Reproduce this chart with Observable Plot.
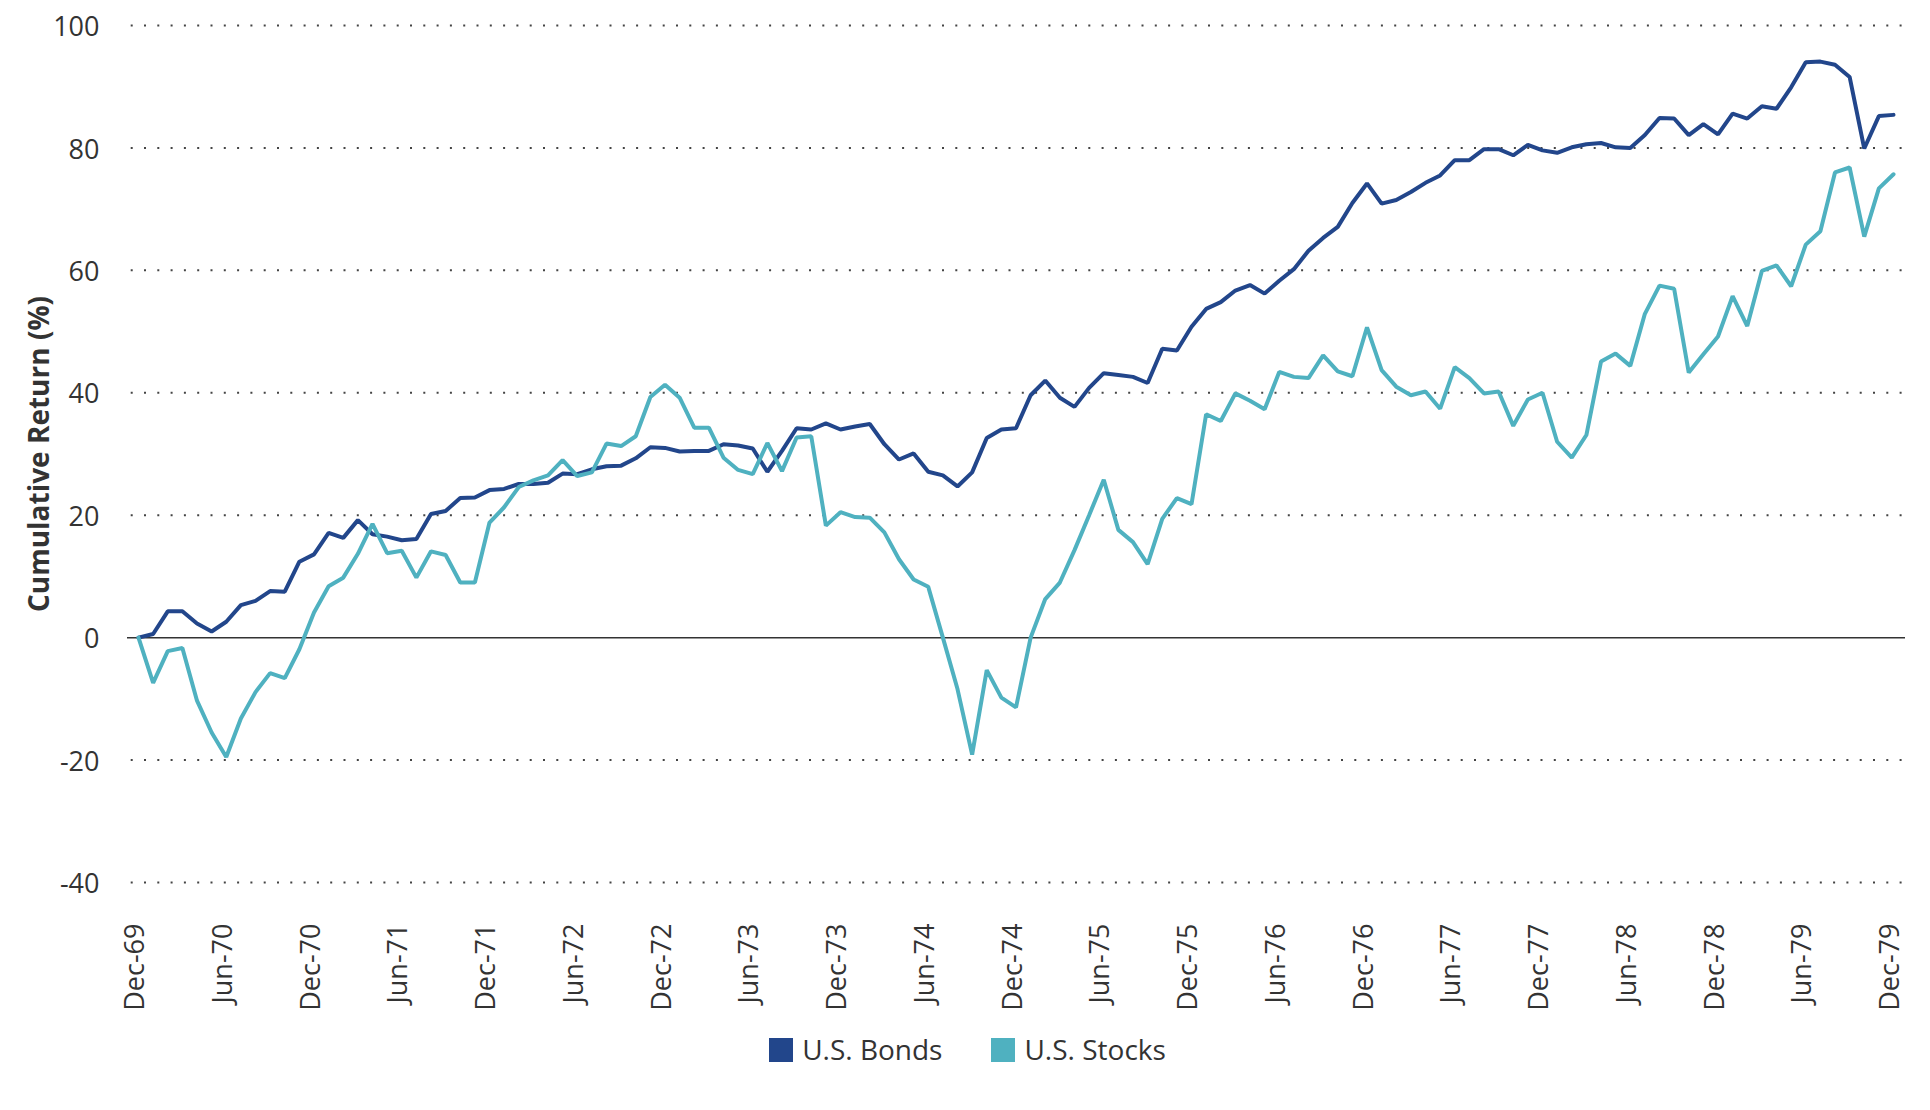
<!DOCTYPE html>
<html>
<head>
<meta charset="utf-8">
<script src="https://cdn.jsdelivr.net/npm/d3@7"></script>
<script src="https://cdn.jsdelivr.net/npm/@observablehq/plot@0.6"></script>
<style>
  html, body { margin: 0; padding: 0; background: #fff; }
  body { width: 1930px; height: 1110px; overflow: hidden; font-family: "Open Sans", sans-serif; }
  #chart svg { display: block; }
  g[aria-label="y-axis label"] text { font-weight: 700; font-size: 28px; }
  #legend { display: flex; justify-content: center; align-items: center; padding-top: 23px; padding-left: 5px; font-size: 28px; line-height: 1.2; color: #333; }
  #legend .item { display: flex; align-items: center; }
  #legend .item + .item { margin-left: 49px; }
  #legend .sw { width: 24px; height: 24px; margin-right: 9px; }
</style>
</head>
<body>
<div id="chart"></div>
<div id="legend"></div>
<script>
const tickLabels = ["Dec-69","Jun-70","Dec-70","Jun-71","Dec-71","Jun-72","Dec-72","Jun-73","Dec-73","Jun-74","Dec-74","Jun-75","Dec-75","Jun-76","Dec-76","Jun-77","Dec-77","Jun-78","Dec-78","Jun-79","Dec-79"];

const seriesNames = ["U.S. Bonds", "U.S. Stocks"];
const seriesColors = ["#22468b", "#4fb1c0"];

// Monthly cumulative return (%), Dec-69 .. Dec-79
const bonds = [
  0, 0.6, 4.3, 4.3, 2.3, 1.0, 2.6, 5.3, 6.0, 7.6, 7.5, 12.4,
  13.6, 17.1, 16.3, 19.2, 16.9, 16.5, 15.9, 16.1, 20.2, 20.7, 22.8, 22.9,
  24.1, 24.3, 25.1, 25.1, 25.3, 26.8, 26.7, 27.5, 28.0, 28.1, 29.3, 31.1,
  31.0, 30.4, 30.5, 30.5, 31.6, 31.4, 30.9, 27.1, 30.5, 34.2, 34.0, 35.0,
  34.0, 34.5, 34.9, 31.6, 29.1, 30.1, 27.1, 26.5, 24.7, 27.0, 32.6, 34.0,
  34.2, 39.6, 42.0, 39.2, 37.7, 40.8, 43.2, 42.9, 42.6, 41.6, 47.2, 46.9,
  50.8, 53.7, 54.8, 56.7, 57.6, 56.2, 58.3, 60.2, 63.2, 65.3, 67.1, 71.0,
  74.2, 70.9, 71.5, 72.8, 74.3, 75.5, 78.0, 78.0, 79.8, 79.8, 78.8, 80.5,
  79.6, 79.2, 80.1, 80.6, 80.8, 80.1, 80.0, 82.1, 84.9, 84.8, 82.1, 83.9,
  82.2, 85.6, 84.8, 86.8, 86.4, 89.9, 94.0, 94.1, 93.6, 91.6, 79.9, 85.2,
  85.4
];
const stocks = [
  0, -7.4, -2.2, -1.7, -10.3, -15.5, -19.5, -13.2, -8.9, -5.8, -6.6, -1.9,
  4.1, 8.4, 9.8, 13.7, 18.6, 13.8, 14.2, 9.8, 14.1, 13.5, 9.0, 9.0,
  18.8, 21.3, 24.6, 25.7, 26.5, 29.0, 26.4, 27.0, 31.7, 31.3, 32.9, 39.3,
  41.3, 39.2, 34.3, 34.3, 29.4, 27.4, 26.7, 31.8, 27.2, 32.7, 32.9, 18.3,
  20.5, 19.7, 19.6, 17.2, 12.8, 9.5, 8.3, 0.0, -8.4, -19.1, -5.3, -9.8,
  -11.4, 0.0, 6.3, 9.0, 14.3, 20.0, 25.8, 17.6, 15.6, 12.0, 19.4, 22.8,
  21.8, 36.5, 35.4, 39.9, 38.7, 37.3, 43.4, 42.6, 42.4, 46.1, 43.5, 42.7,
  50.7, 43.7, 41.0, 39.6, 40.2, 37.4, 44.2, 42.4, 39.9, 40.2, 34.6, 38.9,
  40.0, 32.0, 29.4, 33.1, 45.1, 46.4, 44.4, 52.9, 57.5, 57.0, 43.3, 46.3,
  49.2, 55.8, 50.9, 59.9, 60.8, 57.4, 64.2, 66.4, 76.0, 76.8, 65.5, 73.4,
  75.7
];
const yTicks = [-40, -20, 0, 20, 40, 60, 80, 100];
const gridValues = [-40, -20, 20, 40, 60, 80, 100];

const seriesValues = [bonds, stocks];
const rows = [];
seriesValues.forEach((vals, s) => vals.forEach((v, i) => rows.push({month: i, value: v, series: seriesNames[s]})));

const chart = Plot.plot({
  width: 1930,
  height: 1010,
  marginTop: 25,
  marginBottom: 128,
  marginLeft: 127,
  marginRight: 25,
  style: {fontFamily: "'Open Sans', sans-serif", fontSize: "27px", color: "#333", background: "transparent"},
  x: {domain: [0, bonds.length - 1], insetLeft: 11, insetRight: 12},
  y: {domain: [-40, 100]},
  color: {domain: seriesNames, range: seriesColors},
  marks: [
    Plot.ruleY(gridValues, {stroke: "#444", strokeWidth: 2, strokeDasharray: "2 11.3", strokeDashoffset: 9.6}),
    Plot.ruleY([0], {stroke: "#333", strokeWidth: 1.5}),
    Plot.axisY({ticks: yTicks, tickFormat: d => String(d), tickSize: 0, tickPadding: 28, dy: 2, label: "Cumulative Return (%)", labelAnchor: "center", labelArrow: "none", labelOffset: 98}),
    Plot.axisX({ticks: d3.range(0, bonds.length, 6), tickFormat: i => tickLabels[i / 6], tickSize: 0, tickRotate: -90, tickPadding: 41, dx: -3, label: null}),
    Plot.line(rows.filter(d => d.series === seriesNames[0]), {x: "month", y: "value", stroke: "series", strokeWidth: 4, strokeLinejoin: "miter"}),
    Plot.line(rows.filter(d => d.series === seriesNames[1]), {x: "month", y: "value", stroke: "series", strokeWidth: 4, strokeLinejoin: "miter"})
  ]
});
document.getElementById("chart").appendChild(chart);

const legend = document.getElementById("legend");
seriesNames.forEach((name, k) => {
  const item = document.createElement("div");
  item.className = "item";
  const sw = document.createElement("span");
  sw.className = "sw";
  sw.style.background = seriesColors[k];
  const label = document.createElement("span");
  label.textContent = name;
  item.appendChild(sw);
  item.appendChild(label);
  legend.appendChild(item);
});
</script>
</body>
</html>
